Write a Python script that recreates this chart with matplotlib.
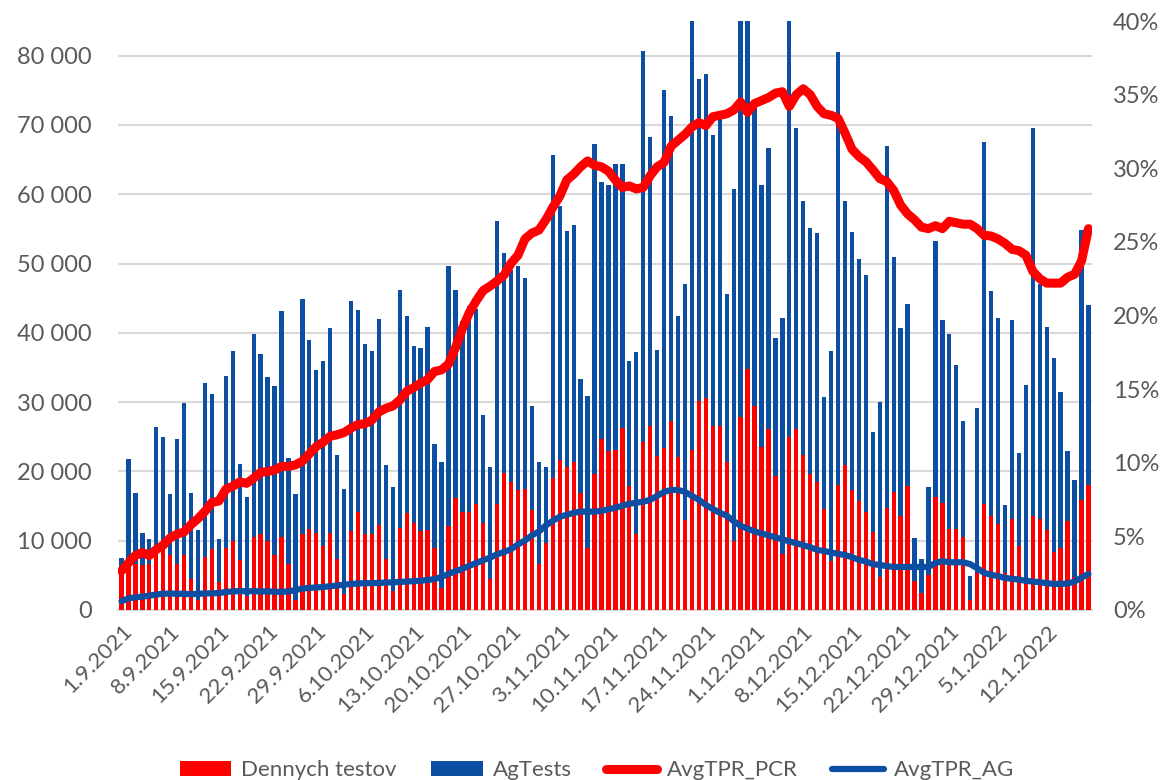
import matplotlib
matplotlib.use("Agg")
import matplotlib.pyplot as plt
import matplotlib.ticker as mticker
from matplotlib.lines import Line2D
from matplotlib.patches import Patch
import numpy as np
import pandas as pd

plt.rcParams['font.family'] = ['Lato', 'DejaVu Sans']

# ---- data -------------------------------------------------------------
dates = pd.date_range("2021-09-01", periods=140, freq="D")
date_labels = [f"{d.day}.{d.month}.{d.year}" for d in dates]

dennych_testov = [
    5000, 7300, 6600, 6500, 6700, 9000, 9300, 7900, 6600, 8000,
    4400, 1400, 7600, 8800, 4000, 8900, 10000, 7200, 2000, 10500,
    10900, 9900, 8000, 10500, 6600, 1500, 11000, 11700, 11100, 9300,
    11100, 7300, 2300, 11400, 14100, 11000, 11000, 12300, 7400, 2700,
    11800, 14000, 12500, 11400, 11500, 9000, 3100, 12100, 16200, 14200,
    14200, 15300, 12500, 4500, 15300, 19700, 18500, 17300, 17500, 14400,
    6700, 9700, 19100, 21700, 20600, 21300, 16900, 9000, 19600, 24700,
    23000, 23100, 26300, 17900, 11000, 24300, 26600, 22200, 23400, 27300,
    22100, 13000, 23100, 30100, 30600, 26600, 26500, 21400, 10000, 27800,
    34800, 29400, 23500, 26100, 19300, 8100, 25000, 26100, 22300, 19600,
    18500, 14600, 7000, 18000, 20900, 17300, 15700, 14200, 11300, 4700,
    14700, 17000, 13500, 17900, 4200, 2400, 5000, 16300, 15400, 11700,
    11700, 10500, 1400, 5400, 15300, 13500, 12400, 5400, 13100, 9200,
    4400, 13600, 13100, 11600, 8400, 8900, 12900, 4800, 15900, 18000,
]

ag_tests = [
    7540, 21830, 16860, 11140, 10170, 26460, 24970, 16690, 24690, 29800,
    16900, 11500, 32700, 31100, 10200, 33700, 37400, 21100, 16300, 39900,
    36900, 33600, 32300, 43100, 22000, 16700, 44900, 39000, 34600, 35900,
    40700, 22400, 17400, 44600, 43300, 38400, 37400, 42000, 20900, 17700,
    46200, 42400, 38100, 37800, 40900, 24000, 21300, 49600, 46200, 41700,
    43900, 43400, 28200, 20600, 56100, 51500, 49000, 49600, 47900, 29400,
    21300, 20700, 65600, 58300, 54700, 55600, 33300, 30900, 67300, 61800,
    61400, 64300, 64400, 35900, 37300, 80700, 68200, 37500, 75100, 71300,
    42500, 47100, 86500, 76600, 77400, 68600, 71300, 45600, 60700, 90000,
    90000, 72900, 61300, 66700, 39300, 42100, 88000, 69500, 59100, 55100,
    54400, 30700, 37400, 80500, 59000, 54500, 50700, 48300, 25700, 30000,
    67000, 51000, 40700, 44100, 10400, 7300, 17700, 53300, 41900, 39800,
    35400, 27300, 4900, 29100, 67600, 46000, 42100, 15100, 41800, 22700,
    32400, 69500, 47000, 40900, 36300, 31400, 23000, 18800, 54900, 44000,
]

avg_tpr_pcr = [  # percent
    2.65, 3.2, 3.7, 3.9, 3.7, 4.1, 4.4, 4.9, 5.15, 5.3,
    5.8, 6.2, 6.7, 7.3, 7.4, 8.2, 8.4, 8.7, 8.6, 8.95,
    9.35, 9.4, 9.5, 9.75, 9.75, 9.85, 10.1, 10.6, 11.1, 11.4,
    11.8, 11.9, 12.05, 12.35, 12.6, 12.65, 12.9, 13.45, 13.7, 13.85,
    14.25, 14.85, 15.1, 15.4, 15.65, 16.2, 16.3, 16.7, 17.8, 19.1,
    20.2, 21.0, 21.7, 22.0, 22.35, 22.75, 23.55, 24.1, 25.2, 25.6,
    25.8, 26.5, 27.35, 28.1, 29.2, 29.6, 30.1, 30.5, 30.2, 30.1,
    29.8, 29.2, 28.7, 28.8, 28.6, 28.7, 29.5, 30.1, 30.4, 31.5,
    31.9, 32.3, 32.8, 33.1, 32.9, 33.5, 33.6, 33.7, 33.95, 34.5,
    33.8, 34.4, 34.6, 34.8, 35.1, 35.2, 34.2, 35.0, 35.4, 35.0,
    34.2, 33.7, 33.6, 33.4, 32.4, 31.3, 30.8, 30.45, 29.9, 29.3,
    29.1, 28.5, 27.5, 26.9, 26.5, 26.0, 25.9, 26.1, 25.9, 26.4,
    26.3, 26.2, 26.2, 25.9, 25.45, 25.4, 25.2, 24.9, 24.5, 24.4,
    24.1, 23.0, 22.5, 22.2, 22.2, 22.2, 22.6, 22.8, 23.7, 25.9,
]

avg_tpr_ag = [  # percent
    0.6, 0.78, 0.86, 0.9, 0.97, 1.05, 1.1, 1.12, 1.1, 1.1,
    1.07, 1.1, 1.12, 1.13, 1.15, 1.22, 1.26, 1.28, 1.27, 1.27,
    1.26, 1.26, 1.24, 1.23, 1.26, 1.35, 1.45, 1.5, 1.53, 1.56,
    1.61, 1.66, 1.72, 1.76, 1.8, 1.82, 1.82, 1.84, 1.86, 1.88,
    1.9, 1.93, 1.96, 1.98, 2.04, 2.09, 2.25, 2.44, 2.63, 2.79,
    3.0, 3.19, 3.38, 3.56, 3.78, 3.94, 4.13, 4.45, 4.72, 5.07,
    5.33, 5.74, 6.06, 6.33, 6.46, 6.6, 6.68, 6.68, 6.68, 6.73,
    6.84, 6.94, 7.08, 7.21, 7.29, 7.35, 7.48, 7.75, 8.02, 8.15,
    8.15, 8.02, 7.75, 7.48, 7.13, 6.86, 6.6, 6.41, 6.03, 5.71,
    5.52, 5.34, 5.2, 5.07, 4.93, 4.8, 4.66, 4.53, 4.4, 4.26,
    4.08, 4.0, 3.91, 3.81, 3.73, 3.59, 3.4, 3.3, 3.11, 3.06,
    2.98, 2.92, 2.92, 2.92, 2.92, 2.92, 2.92, 3.19, 3.32, 3.24,
    3.24, 3.24, 3.11, 2.84, 2.52, 2.39, 2.3, 2.17, 2.12, 2.06,
    1.98, 1.93, 1.88, 1.82, 1.77, 1.77, 1.8, 1.93, 2.2, 2.44,
]

series_names = ["Dennych testov", "AgTests", "AvgTPR_PCR", "AvgTPR_AG"]

# ---- style ------------------------------------------------------------
RED = "#FF0000"
BLUE = "#0B4EA2"
TXT = "#595959"
GRID = "#D9D9D9"

fig = plt.figure(figsize=(11.73, 7.80), dpi=100)
ax = fig.add_axes([0.1006, 0.218, 0.8303, 0.755])
ax2 = ax.twinx()

x = np.arange(len(dates))
w = 0.62
ax.bar(x, ag_tests, width=w, color=BLUE, zorder=2, linewidth=0)
ax.bar(x, dennych_testov, width=w, color=RED, zorder=3, linewidth=0)

ax.set_xlim(-0.5, len(dates) - 0.5)
ax.set_ylim(0, 85000)
ax.set_yticks(np.arange(0, 80001, 10000))
ax.yaxis.set_major_formatter(mticker.FuncFormatter(
    lambda v, p: f"{int(v):,}".replace(",", " ")))
ax.grid(axis="y", color=GRID, linewidth=1.5, zorder=0)
ax.set_axisbelow(True)

ax2.plot(x, np.array(avg_tpr_pcr) / 100, color=RED, linewidth=6.5,
         solid_capstyle="round", solid_joinstyle="round", zorder=5)
ax2.plot(x, np.array(avg_tpr_ag) / 100, color=BLUE, linewidth=4.5,
         solid_capstyle="round", solid_joinstyle="round", zorder=4)
ax2.set_ylim(0, 0.40)
ax2.set_yticks(np.arange(0, 0.4001, 0.05))
ax2.yaxis.set_major_formatter(mticker.PercentFormatter(1.0, decimals=0))

tick_pos = x[::7]
ax.set_xticks(tick_pos)
ax.set_xticklabels([date_labels[i] for i in tick_pos], rotation=45,
                   ha="right", rotation_mode="anchor")

for a in (ax, ax2):
    for s in a.spines.values():
        s.set_visible(False)
    a.tick_params(length=0, colors=TXT)
ax.spines["bottom"].set_visible(True)
ax.spines["bottom"].set_color(GRID)
ax.spines["bottom"].set_linewidth(1.5)

ax.tick_params(axis="y", labelsize=17, pad=19)
ax2.tick_params(axis="y", labelsize=17, pad=15)
ax.tick_params(axis="x", labelsize=16, pad=8)

handles = [
    Patch(facecolor=RED, edgecolor="none"),
    Patch(facecolor=BLUE, edgecolor="none"),
    Line2D([0], [0], color=RED, linewidth=6.5, solid_capstyle="round"),
    Line2D([0], [0], color=BLUE, linewidth=4.5, solid_capstyle="round"),
]
leg = fig.legend(handles, series_names, loc="lower center", ncol=4,
                 bbox_to_anchor=(0.509, -0.026), frameon=False, fontsize=16,
                 handlelength=2.3, handleheight=0.7, handletextpad=0.45,
                 columnspacing=1.55, labelcolor=TXT)

fig.savefig("out.png", dpi=100)
